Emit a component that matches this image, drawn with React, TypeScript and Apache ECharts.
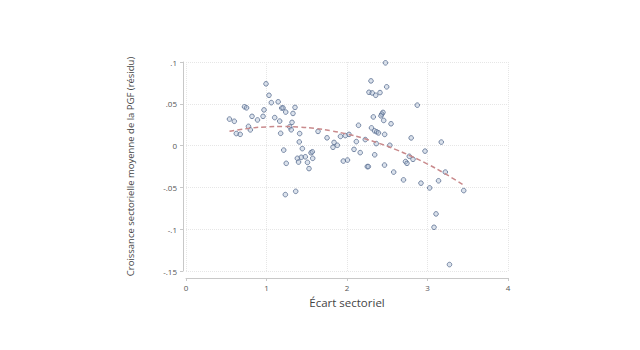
import React, { useEffect, useRef } from "react";
import * as echarts from "echarts";

const xTicks = [0, 1, 2, 3, 4];
const yTickLabels: Record<string, string> = {
  "0.1": ".1",
  "0.05": ".05",
  "0": "0",
  "-0.05": "-.05",
  "-0.1": "-.1",
  "-0.15": "-.15",
};

const ecartX = [
  0.54, 0.6, 0.625, 0.673, 0.727, 0.752, 0.776, 0.799, 0.82, 0.888,
  0.957, 0.969, 0.994, 1.031, 1.06, 1.145, 1.189, 1.205, 1.239, 1.354,
  1.329, 1.102, 1.164, 1.317, 1.288, 1.307, 1.176, 1.412, 1.64, 1.752,
  1.407, 1.445, 1.214, 1.383, 1.432, 1.482, 1.553, 1.569, 1.245, 1.398,
  1.509, 1.574, 1.528, 1.234, 1.363, 1.839, 1.826, 1.88, 1.919, 1.979,
  2.025, 1.954, 2.006, 2.143, 2.227, 2.116, 2.087, 2.164, 2.252, 2.265,
  2.478, 2.298, 2.493, 2.273, 2.313, 2.357, 2.41, 2.873, 2.447, 2.432,
  2.422, 2.327, 2.456, 2.547, 2.304, 2.342, 2.369, 2.391, 2.468, 2.797,
  3.171, 2.363, 2.532, 2.344, 2.969, 2.466, 2.58, 2.727, 2.745, 2.774,
  2.82, 2.702, 2.919, 3.027, 3.137, 3.221, 3.45, 3.106, 3.081, 3.273,
];
const residuY = [
  0.0317, 0.0291, 0.0144, 0.0135, 0.0464, 0.0452, 0.023, 0.0188, 0.035, 0.0307,
  0.035, 0.0427, 0.0739, 0.0602, 0.0514, 0.0524, 0.0449, 0.0451, 0.0401, 0.0457,
  0.0385, 0.0335, 0.0293, 0.0278, 0.0225, 0.0189, 0.0147, 0.0144, 0.017, 0.0093,
  0.0044, -0.0036, -0.0054, -0.0152, -0.014, -0.0134, -0.0086, -0.0074, -0.0212, -0.0197,
  -0.0201, -0.0152, -0.0275, -0.0586, -0.0547, 0.0038, -0.002, 0.0004, 0.011, 0.012,
  0.0134, -0.0185, -0.0173, 0.0243, 0.0072, 0.0048, -0.0045, -0.0084, -0.0251, -0.0251,
  0.099, 0.0774, 0.0703, 0.0638, 0.063, 0.0602, 0.0634, 0.0484, 0.0397, 0.0377,
  0.0356, 0.0343, 0.0301, 0.0261, 0.0212, 0.0176, 0.0165, 0.0152, 0.0134, 0.0092,
  0.0042, 0.0024, 0.0004, -0.011, -0.0066, -0.0233, -0.0317, -0.0191, -0.0212, -0.0128,
  -0.0164, -0.041, -0.0449, -0.0506, -0.0421, -0.0317, -0.0538, -0.0817, -0.0977, -0.1423,
];

const fitX = [0.54, 0.8, 1.0, 1.2, 1.4, 1.6, 1.8, 2.0, 2.2, 2.4, 2.6, 2.8, 3.0, 3.2, 3.44];
const fitY = [
  0.0171, 0.0208, 0.0224, 0.0229, 0.0222, 0.0205, 0.0177, 0.0138, 0.0088, 0.0027,
  -0.0045, -0.0128, -0.0221, -0.0326, -0.0466,
];

const FONT = "'Open Sans', 'Liberation Sans', sans-serif";

export default function App() {
  const ref = useRef<HTMLDivElement>(null);
  useEffect(() => {
    if (!ref.current) return;
    const chart = echarts.init(ref.current, undefined, { renderer: "svg" });
    const scatterData = ecartX.map((x, i) => [x, residuY[i]]);
    const fitData = fitX.map((x, i) => [x, fitY[i]]);
    chart.setOption({
      animation: false,
      backgroundColor: "#ffffff",
      grid: { left: 186, right: 132, top: 62, bottom: 79 },
      xAxis: {
        type: "value",
        min: xTicks[0],
        max: xTicks[xTicks.length - 1],
        interval: 1,
        offset: 7,
        name: "Écart sectoriel",
        nameLocation: "middle",
        nameGap: 18,
        nameTextStyle: { fontFamily: FONT, fontSize: 11.5, color: "#444" },
        axisLine: { show: true, onZero: false, lineStyle: { color: "#c8c8c8", width: 1 } },
        axisTick: { show: true, length: 3, lineStyle: { color: "#c8c8c8" } },
        axisLabel: { fontFamily: FONT, fontSize: 8, color: "#555", margin: 5 },
        splitLine: { show: true, lineStyle: { color: "#e6e6e6", type: "dotted", width: 1 } },
      },
      yAxis: {
        type: "value",
        min: -0.15,
        max: 0.1,
        interval: 0.05,
        offset: 3,
        name: "Croissance sectorielle moyenne de la PGF (résidu)",
        nameLocation: "middle",
        nameGap: 48,
        nameTextStyle: { fontFamily: FONT, fontSize: 9.5, color: "#444" },
        axisLine: { show: true, onZero: false, lineStyle: { color: "#c8c8c8", width: 1 } },
        axisTick: { show: true, length: 3, lineStyle: { color: "#c8c8c8" } },
        axisLabel: {
          fontFamily: FONT,
          fontSize: 8,
          color: "#555",
          margin: 6,
          formatter: (v: number) => {
            const k = String(Math.round(v * 100) / 100);
            return yTickLabels[k] ?? k;
          },
        },
        splitLine: { show: true, lineStyle: { color: "#e6e6e6", type: "dotted", width: 1 } },
      },
      series: [
        {
          type: "scatter",
          data: scatterData,
          symbol: "circle",
          symbolSize: 4.6,
          itemStyle: {
            color: "rgba(165,182,208,0.5)",
            borderColor: "#5a6e90",
            borderWidth: 1,
          },
          z: 2,
        },
        {
          type: "line",
          data: fitData,
          smooth: true,
          showSymbol: false,
          symbol: "none",
          lineStyle: { color: "#c98a8c", width: 1.5, type: [5, 3] },
          z: 3,
        },
      ],
    });
    return () => chart.dispose();
  }, []);
  return (
    <div
      ref={ref}
      style={{ position: "fixed", left: 0, top: 0, width: 640, height: 350 }}
    />
  );
}
